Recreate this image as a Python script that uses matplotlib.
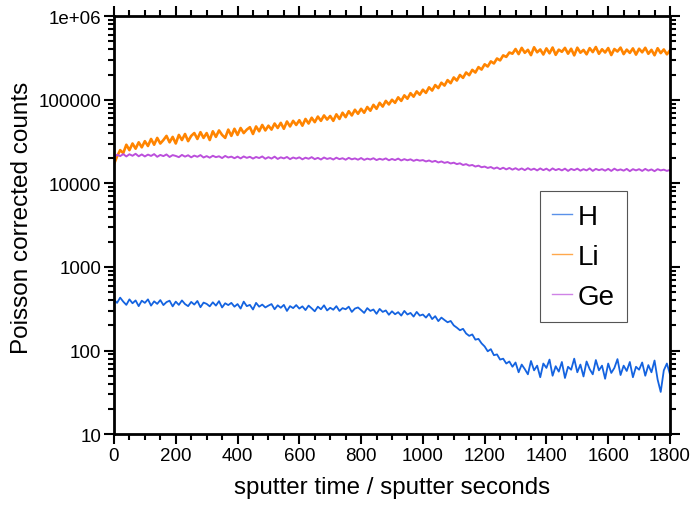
import numpy as np
import matplotlib
matplotlib.use("Agg")
import matplotlib.pyplot as plt
from matplotlib.ticker import FixedLocator, FuncFormatter, LogLocator, MultipleLocator

plt.rcParams["font.family"] = ["Liberation Sans", "DejaVu Sans"]

# sputter time axis, one sample every 10 s
time_s = np.arange(0, 1801, 10)

# H counts
h_counts = [
    405, 372, 430, 385, 352, 410, 368, 398, 340, 395,
    372, 410, 345, 388, 362, 402, 350, 380, 395, 338,
    385, 352, 398, 360, 340, 382, 355, 392, 330, 375,
    362, 338, 378, 345, 390, 328, 368, 350, 372, 335,
    360, 318, 385, 340, 352, 310, 372, 335, 355, 328,
    345, 360, 312, 348, 325, 352, 298, 340, 322, 350,
    318, 338, 305, 345, 320, 295, 335, 312, 348, 302,
    325, 308, 340, 298, 322, 312, 335, 290, 318, 328,
    305, 282, 322, 298, 310, 275, 315, 290, 302, 268,
    295, 272, 288, 262, 298, 270, 282, 255, 290, 262,
    270, 248, 275, 238, 258, 225, 248, 232, 218, 226,
    200, 188, 175, 182, 160, 150, 156, 135, 138, 122,
    112, 98, 104, 88, 90, 78, 80, 70, 74, 64,
    72, 55, 68, 60, 52, 75, 58, 66, 48, 70,
    62, 78, 50, 65, 56, 73, 47, 64, 59, 80,
    55, 68, 49, 74, 60, 52, 77, 58, 66, 46,
    70, 54, 62, 79, 51, 66, 57, 73, 48, 64,
    59, 72, 50, 67, 55, 76, 45, 32, 58, 70,
    52,
]

# Li counts (thousands)
li_counts_k = [
    17, 21, 25, 23, 29, 25, 30, 26, 31, 27,
    32, 28, 34, 29, 35, 30, 33, 37, 31, 36,
    30, 38, 33, 39, 32, 37, 40, 34, 41, 35,
    40, 33, 42, 36, 43, 38, 35, 44, 37, 45,
    38, 46, 40, 44, 47, 39, 48, 42, 50, 43,
    49, 44, 52, 46, 53, 45, 55, 48, 56, 50,
    57, 49, 59, 52, 61, 54, 63, 56, 65, 58,
    64, 56, 67, 59, 70, 62, 73, 65, 76, 68,
    78, 70, 82, 74, 87, 78, 92, 83, 97, 88,
    100, 92, 107, 97, 113, 103, 120, 109, 126, 115,
    132, 121, 141, 129, 150, 138, 160, 148, 172, 158,
    185, 170, 198, 183, 212, 197, 228, 212, 246, 230,
    266, 250, 288, 272, 312, 296, 340, 326, 368, 356,
    405, 352, 418, 365, 396, 342, 425, 370, 400, 348,
    412, 360, 422, 345, 398, 375, 418, 356, 408, 340,
    420, 366, 395, 350, 415, 372, 428, 355, 402, 368,
    416, 343, 405, 378, 421, 352, 398, 364, 412, 347,
    408, 370, 419, 355, 396, 341, 414, 362, 400, 350,
    390,
]

# Ge counts (thousands)
ge_counts_k = [
    20.5, 22.0, 21.2, 22.4, 21.0, 22.3, 21.4, 22.6, 21.1, 22.2,
    21.0, 22.1, 21.3, 22.4, 20.8, 21.9, 21.2, 22.2, 20.7, 21.8,
    21.3, 20.6, 21.9, 20.9, 21.7, 20.5, 21.5, 20.8, 21.8, 20.4,
    21.2, 20.3, 21.4, 20.6, 21.1, 20.1, 21.3, 20.4, 20.9, 20.0,
    20.9, 19.9, 21.0, 20.2, 20.8, 19.8, 20.7, 20.1, 21.0, 19.7,
    20.6, 19.8, 20.9, 19.6, 20.5, 19.9, 20.7, 19.5, 20.4, 19.8,
    20.5, 19.4, 20.3, 19.7, 20.6, 19.5, 20.2, 19.3, 20.4, 19.6,
    20.1, 19.3, 20.3, 19.5, 20.0, 19.2, 20.2, 19.4, 19.9, 19.2,
    20.1, 19.1, 19.8, 19.3, 20.0, 19.0, 19.7, 19.2, 19.9, 18.9,
    19.6, 19.0, 19.8, 18.8, 19.5, 18.9, 19.4, 18.6, 19.2, 18.7,
    19.0, 18.3, 18.8, 18.1, 18.6, 17.8, 18.3, 17.6, 18.0, 17.3,
    17.7, 17.0, 17.4, 16.6, 17.0, 16.3, 16.6, 15.9, 16.3, 15.6,
    15.9, 15.3, 15.7, 15.0, 15.5, 14.8, 15.4, 14.7, 15.3, 14.6,
    15.2, 14.5, 15.1, 14.4, 15.2, 14.5, 15.0, 14.3, 15.1, 14.4,
    15.0, 14.2, 15.1, 14.4, 14.9, 14.3, 15.0, 14.1, 14.9, 14.4,
    15.0, 14.2, 14.8, 14.3, 15.1, 14.1, 14.9, 14.4, 14.8, 14.2,
    14.9, 14.1, 15.0, 14.3, 14.7, 14.2, 14.9, 14.0, 14.8, 14.3,
    14.8, 14.1, 14.9, 14.2, 14.7, 14.0, 14.8, 14.3, 14.6, 14.1,
    14.5,
]

# name, values, unit scale, colour, line width
series = [
    ("H", h_counts, 1.0, "#1463e0", 1.3),
    ("Li", li_counts_k, 1000.0, "#ff8400", 1.9),
    ("Ge", ge_counts_k, 1000.0, "#bb4fdc", 1.4),
]

ytick_values = [10, 100, 1000, 10000, 100000, 1000000]
ytick_labels = ["10", "100", "1000", "10000", "100000", "1e+06"]


def ylabel_for(v, pos):
    k = int(round(v))
    return ytick_labels[ytick_values.index(k)] if k in ytick_values else ""


fig = plt.figure(figsize=(6.95, 5.06), dpi=100)
ax = fig.add_axes([0.164, 0.140, 0.800, 0.826])

for name, values, scale, color, lw in series:
    ax.plot(time_s, np.asarray(values) * scale, color=color, lw=lw, label=name)

ax.set_yscale("log")
ax.set_xlim(0, 1800)
ax.set_ylim(10, 1e6)

ax.xaxis.set_major_locator(MultipleLocator(200))
ax.xaxis.set_minor_locator(MultipleLocator(50))
ax.yaxis.set_major_locator(FixedLocator(ytick_values))
ax.yaxis.set_major_formatter(FuncFormatter(ylabel_for))
ax.yaxis.set_minor_locator(LogLocator(base=10, subs=np.arange(2, 10)))

ax.tick_params(which="both", direction="out", top=True, right=True, width=1.5,
               labelsize=13.5, colors="black", pad=2)
ax.tick_params(which="major", length=7)
ax.tick_params(which="minor", length=4)
ax.tick_params(axis="y", which="minor", labelleft=False)

for side in ax.spines.values():
    side.set_linewidth(2)

ax.set_xlabel("sputter time / sputter seconds", fontsize=17.4, labelpad=9)
ax.set_ylabel("Poisson corrected counts", fontsize=17.5)
ax.yaxis.set_label_coords(-0.145, 0.52)

leg = ax.legend(loc="upper left", bbox_to_anchor=(0.766, 0.581), fontsize=20,
                handlelength=0.7, handletextpad=0.2, labelspacing=0.5,
                borderpad=0.45, borderaxespad=0, fancybox=False, framealpha=1)
leg.get_frame().set_edgecolor("#555555")
leg.get_frame().set_linewidth(0.8)
for handle in leg.get_lines():
    handle.set_linewidth(1.0)
    handle.set_alpha(0.7)

fig.savefig("out.png", dpi=100)
